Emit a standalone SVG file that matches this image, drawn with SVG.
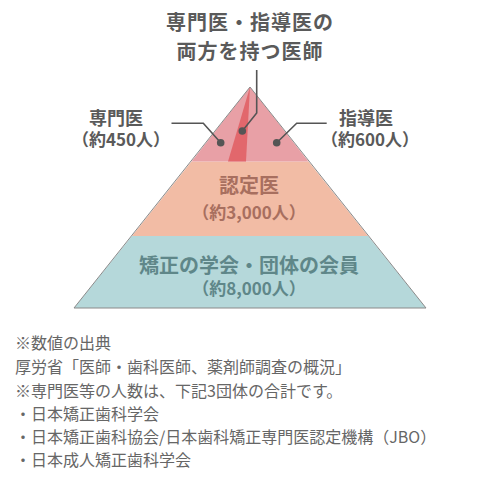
<svg xmlns="http://www.w3.org/2000/svg" width="500" height="484" viewBox="0 0 500 484">
<style>
text{font-family:"Noto Sans CJK JP","Noto Sans",sans-serif;}
.title{font-size:20px;font-weight:700;fill:#5a5a5a;text-anchor:middle;letter-spacing:1px}
.lbl{font-size:18px;font-weight:700;fill:#5a5a5a;text-anchor:middle}
.cnt{font-size:17px;font-weight:700;fill:#5a5a5a;text-anchor:middle}
.note{font-size:16px;fill:#666}
.lead{fill:none;stroke:#555;stroke-width:1.6}
.dot{fill:#555}
</style>
<rect width="500" height="484" fill="#fff"/>
<g id="title">
<text class="title" x="250" y="30">専門医・指導医の</text>
<text class="title" x="250" y="59">両方を持つ医師</text>
</g>
<g id="tier-bottom">
<polygon points="132,236 368,236 426,308 74,308" fill="#b5d8da"/>
<text class="lbl" x="249" y="273" style="fill:#5f8789;font-size:20px">矯正の学会・団体の会員</text>
<text class="cnt" x="249" y="295" style="fill:#5f8789">（約8,000人）</text>
</g>
<g id="tier-middle">
<polygon points="191.5,161.5 308.5,161.5 368,236 132,236" fill="#f2bca5"/>
<text class="lbl" x="249" y="193" style="fill:#a86f5f;font-size:20px">認定医</text>
<text class="cnt" x="249" y="219" style="fill:#a86f5f">（約3,000人）</text>
</g>
<g id="tier-top">
<polygon points="250,87 191.5,161.5 308.5,161.5" fill="#e8a0a6"/>
<polygon points="250,87 246,161.5 228,161.5" fill="#e2676c"/>
</g>
<polygon points="250,87 426,308 74,308" fill="none" stroke="#8a8a8a" stroke-width="1"/>
<g id="label-left">
<text class="lbl" x="116" y="125">専門医</text>
<text class="cnt" x="121" y="146">（約450人）</text>
</g>
<g id="label-right">
<text class="lbl" x="366" y="125">指導医</text>
<text class="cnt" x="370" y="146">（約600人）</text>
</g>
<g id="connectors">
<polyline class="lead" points="171.5,123.3 203.3,123.3 220.7,142.7"/>
<polyline class="lead" points="326.7,123.3 296.7,123.3 276.7,142.7"/>
<polyline class="lead" points="256.7,70 256.7,113 242.3,131"/>
<circle class="dot" cx="220.7" cy="142.7" r="3.8"/>
<circle class="dot" cx="276.7" cy="142.7" r="3.8"/>
<circle class="dot" cx="242.3" cy="131" r="3.8"/>
</g>
<g id="notes">
<text class="note" x="15" y="349">※数値の出典</text>
<text class="note" x="15" y="373">厚労省「医師・歯科医師、薬剤師調査の概況」</text>
<text class="note" x="15" y="397">※専門医等の人数は、下記3団体の合計です。</text>
<text class="note" x="15" y="420">・日本矯正歯科学会</text>
<text class="note" x="15" y="443">・日本矯正歯科協会/日本歯科矯正専門医認定機構（JBO）</text>
<text class="note" x="15" y="466">・日本成人矯正歯科学会</text>
</g>
</svg>
